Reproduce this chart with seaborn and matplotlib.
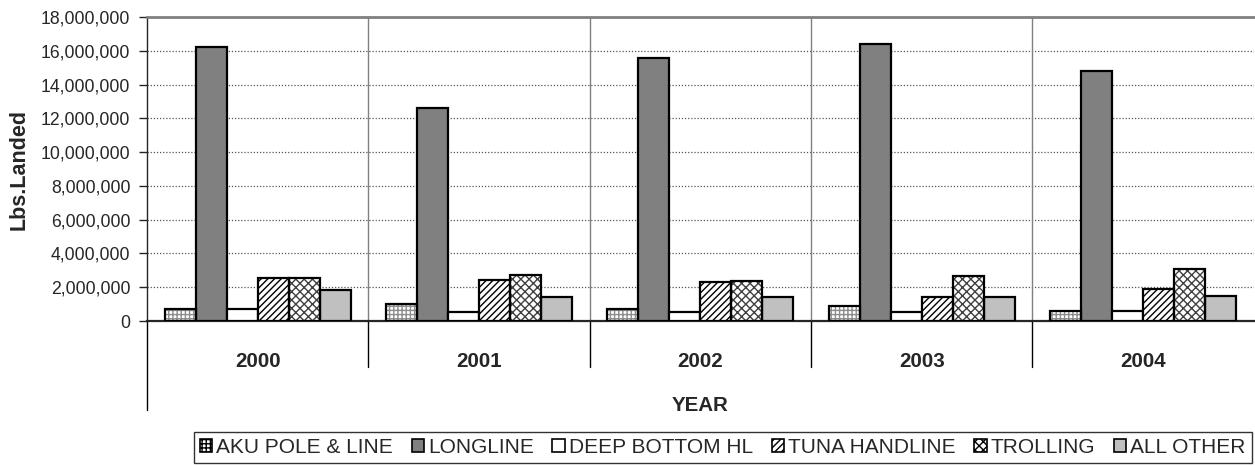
import pandas as pd
import seaborn as sns
import matplotlib.pyplot as plt
from matplotlib.patches import Rectangle
from matplotlib.ticker import FuncFormatter, FixedLocator

# data (lbs landed)
years = ["2000", "2001", "2002", "2003", "2004"]
gears = ["AKU POLE & LINE", "LONGLINE", "DEEP BOTTOM HL", "TUNA HANDLINE", "TROLLING", "ALL OTHER"]
aku = [700000, 1000000, 700000, 900000, 600000]
longline = [16250000, 12600000, 15600000, 16400000, 14800000]
deep_bottom = [700000, 550000, 550000, 550000, 600000]
tuna_handline = [2550000, 2400000, 2300000, 1450000, 1900000]
trolling = [2550000, 2700000, 2350000, 2650000, 3100000]
all_other = [1850000, 1400000, 1450000, 1400000, 1500000]

series = [aku, longline, deep_bottom, tuna_handline, trolling, all_other]
df = pd.DataFrame(
    [(y, g, v) for g, vals in zip(gears, series) for y, v in zip(years, vals)],
    columns=["year", "gear", "lbs"],
)

face = ["white", "#808080", "white", "white", "white", "#c0c0c0"]
hatches = ["++++", None, None, "/////", "xxxx", None]
hatch_col = ["#8c8c8c", None, None, "black", "#404040", None]

sns.set_style("white")
plt.rcParams["font.family"] = ["Liberation Sans", "DejaVu Sans"]
plt.rcParams["hatch.linewidth"] = 1.0

fig = plt.figure(figsize=(12.55, 4.66), dpi=100)
ax = fig.add_axes([147 / 1255, 1 - 321 / 466, 1 - 147 / 1255 - 0.001, (321 - 17) / 466])

sns.barplot(data=df, x="year", y="lbs", hue="gear", hue_order=gears, order=years,
            palette=face, width=0.84, edgecolor="black", linewidth=1.6,
            saturation=1, legend=False, ax=ax, zorder=3)

handles = []
for cont, fc, h, hc, name in zip(ax.containers, face, hatches, hatch_col, gears):
    for p in cont:
        if h:
            p.set_hatch(h)
            p.set_edgecolor(hc)
            p.set_linewidth(0)
            ax.add_patch(Rectangle(p.get_xy(), p.get_width(), p.get_height(),
                                   fill=False, ec="black", lw=1.6, zorder=4))
    handles.append(Rectangle((0, 0), 1, 1, fc=fc, ec="black", lw=1.2, hatch=h))

ax.set_ylim(0, 18000000)
ax.set_xlim(-0.5, 4.5)
ax.yaxis.set_major_locator(FixedLocator(range(0, 18000001, 2000000)))
ax.yaxis.set_major_formatter(FuncFormatter(lambda v, p: f"{int(v):,}"))
ax.grid(axis="y", color="#555555", linestyle=(0, (1, 1.5)), linewidth=0.9, zorder=0)
ax.set_axisbelow(True)

# group separators
for b in [0.5, 1.5, 2.5, 3.5]:
    ax.axvline(b, color="#808080", linewidth=1.0, zorder=1)
    ax.plot([b, b], [0, -46 / 304], transform=ax.get_xaxis_transform(),
            color="black", linewidth=1.0, clip_on=False)
# left axis extends down to frame the category table
ax.plot([0, 0], [0, -89 / 304], transform=ax.transAxes, color="black",
        linewidth=1.0, clip_on=False)

ax.spines["right"].set_visible(False)
ax.spines["top"].set_color("#808080")
ax.spines["top"].set_linewidth(2.0)
ax.spines["left"].set_linewidth(1.0)
ax.spines["bottom"].set_linewidth(1.6)
ax.tick_params(axis="y", direction="out", length=6, width=1.0, labelsize=12.7, pad=6, left=True)
ax.tick_params(axis="x", length=0, pad=22, labelsize=14.8)
for t in ax.get_xticklabels():
    t.set_fontweight("bold")

ax.set_ylabel("Lbs.Landed", fontsize=15.5, fontweight="bold", labelpad=8)
ax.set_xlabel("YEAR", fontsize=14.8, fontweight="bold", labelpad=18)

leg = fig.legend(handles, gears, loc="lower right", bbox_to_anchor=(1252 / 1255, 3 / 466),
                 ncol=6, fontsize=15, frameon=True, fancybox=False, edgecolor="black",
                 handlelength=0.6, handleheight=0.6, handletextpad=0.2,
                 columnspacing=0.88, borderpad=0.3, borderaxespad=0)
leg.get_frame().set_linewidth(1.0)

fig.savefig("out.png", dpi=100)
